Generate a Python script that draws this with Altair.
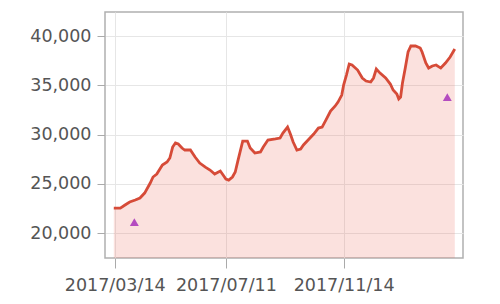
import altair as alt
import pandas as pd

dates = [
    "2017-03-13", "2017-03-20", "2017-03-25", "2017-03-30", "2017-04-05", "2017-04-10",
    "2017-04-15", "2017-04-21", "2017-04-24", "2017-04-28", "2017-05-04", "2017-05-09",
    "2017-05-12", "2017-05-15", "2017-05-18", "2017-05-21", "2017-05-25", "2017-05-28",
    "2017-06-03", "2017-06-08", "2017-06-13", "2017-06-19", "2017-06-24", "2017-06-29",
    "2017-07-05", "2017-07-08", "2017-07-11", "2017-07-14", "2017-07-18", "2017-07-21",
    "2017-07-24", "2017-07-29", "2017-08-03", "2017-08-06", "2017-08-11", "2017-08-17",
    "2017-08-20", "2017-08-25", "2017-09-02", "2017-09-07", "2017-09-10", "2017-09-15",
    "2017-09-18", "2017-09-21", "2017-09-25", "2017-09-29", "2017-10-02", "2017-10-07",
    "2017-10-13", "2017-10-18", "2017-10-22", "2017-10-26", "2017-10-31", "2017-11-05",
    "2017-11-08", "2017-11-12", "2017-11-14", "2017-11-17", "2017-11-20", "2017-11-23",
    "2017-11-29", "2017-12-04", "2017-12-08", "2017-12-13", "2017-12-16", "2017-12-19",
    "2017-12-23", "2017-12-29", "2018-01-03", "2018-01-06", "2018-01-10", "2018-01-12",
    "2018-01-14", "2018-01-16", "2018-01-19", "2018-01-22", "2018-01-25", "2018-01-30",
    "2018-02-04", "2018-02-06", "2018-02-10", "2018-02-13", "2018-02-17", "2018-02-21",
    "2018-02-26", "2018-03-03", "2018-03-08", "2018-03-13",
]
values = [
    22540, 22540, 22850, 23150, 23350, 23560,
    24060, 25080, 25690, 25990, 26910, 27210,
    27620, 28730, 29140, 29040, 28630, 28430,
    28430, 27720, 27110, 26700, 26400, 25990,
    26300, 25890, 25490, 25380, 25690, 26200,
    27410, 29340, 29340, 28630, 28120, 28230,
    28730, 29440, 29550, 29650, 30150, 30760,
    30050, 29240, 28430, 28530, 28940, 29440,
    30050, 30660, 30760, 31470, 32390, 32900,
    33300, 34010, 35030, 36040, 37160, 37060,
    36550, 35740, 35430, 35330, 35740, 36650,
    36240, 35740, 35130, 34520, 34110, 33610,
    33810, 35230, 36750, 38380, 38990, 38990,
    38780, 38380, 37260, 36750, 36960, 37060,
    36750, 37260, 37870, 38680,
]
marker_dates = ["2017-04-04", "2018-03-05"]
marker_values = [21120, 33810]

y_ticks = [20000, 25000, 30000, 35000, 40000]
y_min, y_max = 17470, 42440

W, H = 358, 246

df = pd.DataFrame({"date": dates, "value": values})
mk = pd.DataFrame({"date": marker_dates, "value": marker_values})

x_scale = alt.Scale(
    type="utc",
    domain=[
        alt.DateTime(year=2017, month=3, date=3, hours=14, utc=True),
        alt.DateTime(year=2018, month=3, date=21, hours=19, utc=True),
    ],
)
y_scale = alt.Scale(domain=[y_min, y_max], nice=False, zero=False)

x_label_expr = (
    "utcyear(datum.value) + '/' + (utcmonth(datum.value) < 9 ? '0' : '') + "
    "(utcmonth(datum.value) + 1) + '/' + (utcdate(datum.value) < 10 ? '0' : '') + "
    "utcdate(datum.value)"
)
y_label_expr = "floor(datum.value / 1000) + ',' + substring(toString(1000 + datum.value % 1000), 1)"

x_axis = alt.Axis(
    title=None,
    labelExpr=x_label_expr,
    values=[
        alt.DateTime(year=2017, month=3, date=14, utc=True),
        alt.DateTime(year=2017, month=7, date=11, utc=True),
        alt.DateTime(year=2017, month=11, date=14, utc=True),
    ],
    labelFont="DejaVu Sans",
    labelFontSize=17.5,
    labelColor="#555555",
    tickColor="#aaaaaa",
    tickSize=10,
    labelPadding=8,
    domain=False,
    gridColor="#e6e6e6",
    labelFlush=False,
)
y_axis = alt.Axis(
    title=None,
    labelExpr=y_label_expr,
    values=y_ticks,
    labelFont="DejaVu Sans",
    labelFontSize=17.5,
    labelColor="#555555",
    tickColor="#aaaaaa",
    tickSize=8,
    labelPadding=6,
    domain=False,
    gridColor="#e6e6e6",
)

X = alt.X("date:T", scale=x_scale, axis=x_axis)
Y = alt.Y("value:Q", scale=y_scale, axis=y_axis)

base = alt.Chart(df)

area = base.mark_area(color="#ea6a5a", opacity=0.2, clip=True).encode(
    x=X,
    y=Y,
    y2=alt.datum(y_min),
)
line = base.mark_line(color="#d64b38", strokeWidth=2.8).encode(x=X, y=Y)
points = alt.Chart(mk).mark_point(
    shape="triangle-up", filled=True, color="#b44cc0", opacity=1, size=80
).encode(x=X, y=Y)

chart = (
    alt.layer(area, line, points)
    .properties(
        width=W,
        height=H,
        autosize="none",
        padding={"left": 105, "top": 12, "right": 37, "bottom": 46},
        background="white",
    )
    .configure_view(stroke="#b0b0b0", strokeWidth=1.5)
)

chart.save("out.html", embed_options={"renderer": "svg", "actions": False})
